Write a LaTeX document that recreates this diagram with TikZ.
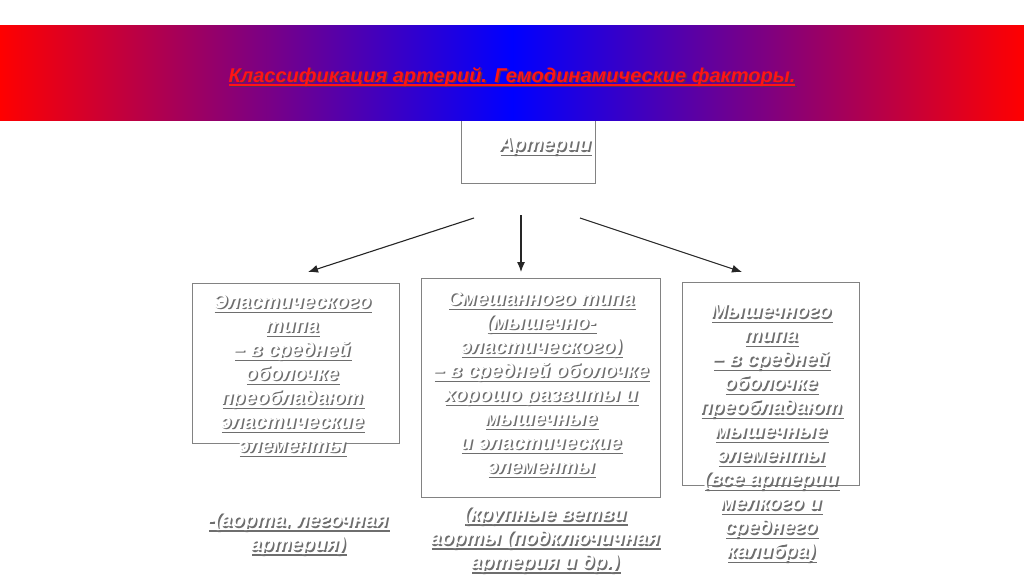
\documentclass[tikz,border=0pt]{standalone}
\usepackage{fontspec}
\setmainfont{Liberation Sans}
\usetikzlibrary{arrows.meta}
\definecolor{shadowgray}{RGB}{110,110,110}
\definecolor{boxgray}{RGB}{130,130,130}
\definecolor{titlered}{RGB}{255,20,20}
\definecolor{titleshadow}{RGB}{90,40,90}
\newcommand\ulx[1]{\setbox0\hbox{#1}\rlap{\rule[-3.5pt]{\wd0}{1.4pt}}\box0}
\begin{document}
\begin{tikzpicture}[x=1pt,y=-1pt,
  lbl/.style={font=\bfseries\itshape\fontsize{20}{24}\selectfont, align=center, inner sep=0pt, anchor=north},
  shd/.style={lbl, text=shadowgray, xshift=1.5pt, yshift=-1.5pt},
  wht/.style={lbl, text=white},
  box/.style={draw=boxgray, line width=0.9pt, fill=white, inner sep=0pt, anchor=north west},
  arr/.style={draw=black!85, line width=1.1pt, -{Latex[length=10pt,width=8pt]}}]
\useasboundingbox (0,0) rectangle (1024,576);
\fill[white] (0,0) rectangle (1024,576);
% boxes
\node[box, minimum width=134pt, minimum height=80pt] (artbox) at (461,103) {};
\node[box, minimum width=207pt, minimum height=160pt] (lbox) at (192,283) {};
\node[box, minimum width=239pt, minimum height=219pt] (mbox) at (421,278) {};
\node[box, minimum width=177pt, minimum height=203pt] (rbox) at (682,282) {};
% band
\shade[left color=red, right color=red, middle color=blue] (0,25) rectangle (1024,120);
% title
\newcommand\titletext{\ulx{Классификация артерий. Гемодинамические факторы.}}
\node[lbl, text=titleshadow, xshift=1.5pt, yshift=-1.5pt] (titlesh) at (512,67) {\titletext};
\node[lbl, text=titlered] (title) at (512,67) {\titletext};
% Артерии
\newcommand\arttext{\ulx{Артерии}}
\node[shd] (artsh) at (545,137) {\arttext};
\node[wht] (art) at (545,137) {\arttext};
% left
\newcommand\ltext{\ulx{Эластического}\\\ulx{типа}\\\ulx{– в средней}\\\ulx{оболочке}\\\ulx{преобладают}\\\ulx{эластические}\\\ulx{элементы}}
\node[shd] (lsh) at (292,294) {\ltext};
\node[wht] (ltx) at (292,294) {\ltext};
\newcommand\lbtext{\ulx{-(аорта, легочная}\\\ulx{артерия)}}
\node[shd] (lbsh) at (298,512) {\lbtext};
\node[wht] (lbtx) at (298,512) {\lbtext};
% middle
\newcommand\mtext{\ulx{Смешанного типа}\\\ulx{(мышечно-}\\\ulx{эластического)}\\\ulx{– в средней оболочке}\\\ulx{хорошо развиты и}\\\ulx{мышечные}\\\ulx{и эластические}\\\ulx{элементы}}
\node[shd] (msh) at (541,291) {\mtext};
\node[wht] (mtx) at (541,291) {\mtext};
\newcommand\mbtext{\ulx{(крупные ветви}\\\ulx{аорты (подключичная}\\\ulx{артерия и др.)}}
\node[shd] (mbsh) at (545,506) {\mbtext};
\node[wht] (mbtx) at (545,506) {\mbtext};
% right
\newcommand\rtext{\ulx{Мышечного}\\\ulx{типа}\\\ulx{– в средней}\\\ulx{оболочке}\\\ulx{преобладают}\\\ulx{мышечные}\\\ulx{элементы}\\\ulx{(все артерии}\\\ulx{мелкого и}\\\ulx{среднего}\\\ulx{калибра)}}
\node[shd] (rsh) at (771,304) {\rtext};
\node[wht] (rtx) at (771,304) {\rtext};
% arrows
\coordinate (a1s) at (474,218); \coordinate (a1e) at (308,272);
\coordinate (a2s) at (521,215); \coordinate (a2e) at (521,272);
\coordinate (a3s) at (580,218); \coordinate (a3e) at (742,272);
\draw[arr] (a1s) -- (a1e);
\draw[arr] (a2s) -- (a2e);
\draw[arr] (a3s) -- (a3e);
\end{tikzpicture}
\end{document}
